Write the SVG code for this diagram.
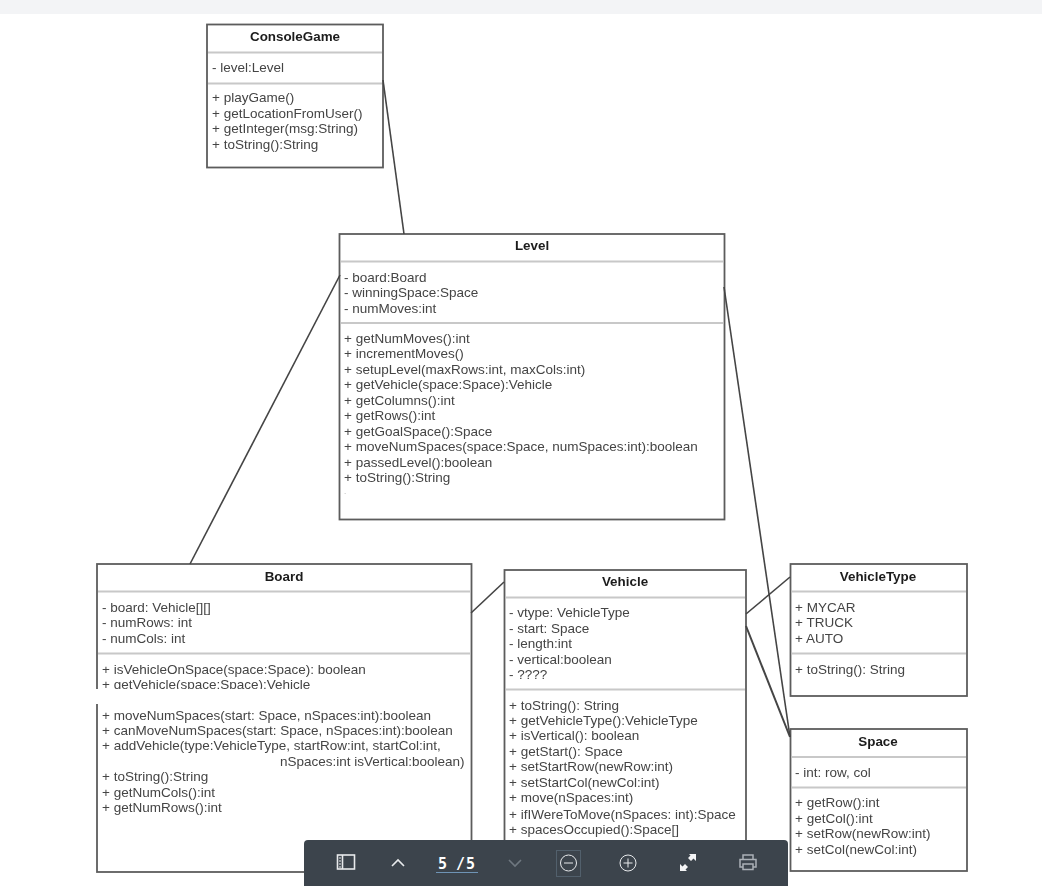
<svg xmlns="http://www.w3.org/2000/svg" width="1042" height="886" viewBox="0 0 1042 886">
<defs><filter id="soft" filterUnits="userSpaceOnUse" x="0" y="0" width="1042" height="886"><feGaussianBlur stdDeviation="0.4"/></filter></defs>
<style>
.box{fill:#fff;stroke:#5c5c5c;stroke-width:1.8}
.div{stroke:#c8c8c8;stroke-width:1.8;fill:none}
.con{stroke:#444;stroke-width:1.6;fill:none}
.nd,.cn{filter:url(#soft)}
text{font-family:"Liberation Sans",Arial,sans-serif}
.t{font-size:13.5px;fill:#444}
.h{font-size:13.4px;font-weight:bold;fill:#1c1c1c;text-anchor:middle}
.ic{fill:none;stroke:#e8eaec;stroke-width:1.6}
.dim{fill:none;stroke:#6f7880;stroke-width:1.6}
.pg{font-family:"DejaVu Sans Mono",monospace;font-size:15px;font-weight:bold;fill:#fff}
</style>
<rect width="1042" height="886" fill="#fff"/>
<rect width="1042" height="14" fill="#f3f4f6"/>
<g id="ConsoleGame" class="nd">
<rect class="box" x="207" y="24.500" width="176" height="143"/>
<path class="div" d="M208 52.500H382M208 83.500H382"/>
<text class="h" x="295" y="41">ConsoleGame</text>
<text class="t" x="212" y="72">- level:Level</text>
<text class="t" x="212" y="102">+ playGame()</text>
<text class="t" x="212" y="118">+ getLocationFromUser()</text>
<text class="t" x="212" y="133">+ getInteger(msg:String)</text>
<text class="t" x="212" y="149">+ toString():String</text>
</g>
<g id="Level" class="nd">
<rect class="box" x="339.500" y="234" width="385" height="285.500"/>
<path class="div" d="M341 261.500H723M341 323H723"/>
<text class="h" x="532" y="250">Level</text>
<text class="t" x="344" y="282">- board:Board</text>
<text class="t" x="344" y="297">- winningSpace:Space</text>
<text class="t" x="344" y="313">- numMoves:int</text>
<text class="t" x="344" y="343">+ getNumMoves():int</text>
<text class="t" x="344" y="358">+ incrementMoves()</text>
<text class="t" x="344" y="374">+ setupLevel(maxRows:int, maxCols:int)</text>
<text class="t" x="344" y="389">+ getVehicle(space:Space):Vehicle</text>
<text class="t" x="344" y="405">+ getColumns():int</text>
<text class="t" x="344" y="420">+ getRows():int</text>
<text class="t" x="344" y="436">+ getGoalSpace():Space</text>
<text class="t" x="344" y="451">+ moveNumSpaces(space:Space, numSpaces:int):boolean</text>
<text class="t" x="344" y="467">+ passedLevel():boolean</text>
<text class="t" x="344" y="482">+ toString():String</text>
<text class="t" x="344" y="494" style="font-size:8px" fill-opacity=".5">.</text>
</g>
<g id="Board" class="nd">
<rect class="box" x="97" y="564" width="374.500" height="308"/>
<path class="div" d="M98 591.500H470M98 653.500H470"/>
<text class="h" x="284" y="581">Board</text>
<text class="t" x="102" y="612">- board: Vehicle[][]</text>
<text class="t" x="102" y="627">- numRows: int</text>
<text class="t" x="102" y="643">- numCols: int</text>
<text class="t" x="102" y="674">+ isVehicleOnSpace(space:Space): boolean</text>
<text class="t" x="102" y="689">+ getVehicle(space:Space):Vehicle</text>
<rect x="94" y="689" width="250" height="15" fill="#fff"/>
<text class="t" x="102" y="720">+ moveNumSpaces(start: Space, nSpaces:int):boolean</text>
<text class="t" x="102" y="735">+ canMoveNumSpaces(start: Space, nSpaces:int):boolean</text>
<text class="t" x="102" y="750">+ addVehicle(type:VehicleType, startRow:int, startCol:int,</text>
<text class="t" x="280" y="766">nSpaces:int isVertical:boolean)</text>
<text class="t" x="102" y="781">+ toString():String</text>
<text class="t" x="102" y="797">+ getNumCols():int</text>
<text class="t" x="102" y="812">+ getNumRows():int</text>
</g>
<g id="Vehicle" class="nd">
<rect class="box" x="504.500" y="570" width="241.500" height="290"/>
<path class="div" d="M506 597.500H745M506 689.500H745"/>
<text class="h" x="625" y="586">Vehicle</text>
<text class="t" x="509" y="617">- vtype: VehicleType</text>
<text class="t" x="509" y="633">- start: Space</text>
<text class="t" x="509" y="648">- length:int</text>
<text class="t" x="509" y="664">- vertical:boolean</text>
<text class="t" x="509" y="679">- ????</text>
<text class="t" x="509" y="710">+ toString(): String</text>
<text class="t" x="509" y="725">+ getVehicleType():VehicleType</text>
<text class="t" x="509" y="740">+ isVertical(): boolean</text>
<text class="t" x="509" y="756">+ getStart(): Space</text>
<text class="t" x="509" y="771">+ setStartRow(newRow:int)</text>
<text class="t" x="509" y="787">+ setStartCol(newCol:int)</text>
<text class="t" x="509" y="802">+ move(nSpaces:int)</text>
<text class="t" x="509" y="819">+ ifIWereToMove(nSpaces: int):Space</text>
<text class="t" x="509" y="834">+ spacesOccupied():Space[]</text>
</g>
<g id="VehicleType" class="nd">
<rect class="box" x="790.500" y="564" width="176.500" height="132"/>
<path class="div" d="M792 591.500H966M792 653.500H966"/>
<text class="h" x="878" y="581">VehicleType</text>
<text class="t" x="795" y="612">+ MYCAR</text>
<text class="t" x="795" y="627">+ TRUCK</text>
<text class="t" x="795" y="643">+ AUTO</text>
<text class="t" x="795" y="674">+ toString(): String</text>
</g>
<g id="Space" class="nd">
<rect class="box" x="790.500" y="729" width="176.500" height="142"/>
<path class="div" d="M792 757H966M792 787.500H966"/>
<text class="h" x="878" y="746">Space</text>
<text class="t" x="795" y="777">- int: row, col</text>
<text class="t" x="795" y="807">+ getRow():int</text>
<text class="t" x="795" y="823">+ getCol():int</text>
<text class="t" x="795" y="838">+ setRow(newRow:int)</text>
<text class="t" x="795" y="854">+ setCol(newCol:int)</text>
</g>
<g id="connectors" class="cn">
<path class="con" d="M383 80L404 234"/>
<path class="con" d="M340 275L190 564"/>
<path class="con" d="M724 287L790 737"/>
<path class="con" d="M471 613L504 582"/>
<path class="con" d="M746 614L790 577"/>
<path class="con" style="stroke-width:2" d="M746 626L790 737"/>
</g>
<g id="toolbar">
<path d="M308 840H784a4 4 0 0 1 4 4V886H304V844a4 4 0 0 1 4-4z" fill="#3c444c"/>
<rect class="ic" x="337.500" y="855" width="17" height="14"/>
<path class="ic" d="M342.500 855V869"/>
<path d="M339 858h2M339 861h2M339 864h2M339 867h2" stroke="#e8eaec"/>
<path class="ic" d="M392 866L398 860L404 866"/>
<text class="pg" x="438" y="869">5</text>
<text class="pg" x="456" y="869">/</text>
<text class="pg" x="466" y="869">5</text>
<path d="M436 872.500H478" stroke="#6f94b5" stroke-width="1"/>
<path class="dim" d="M509 860L515 866L521 860"/>
<rect x="556.500" y="850.500" width="24" height="26" fill="none" stroke="#52606c"/>
<circle cx="568.500" cy="863" r="8" fill="none" stroke="#e8eaec"/>
<path d="M564 863H573" stroke="#e8eaec"/>
<circle cx="628" cy="863" r="8" fill="none" stroke="#e8eaec"/>
<path d="M623.500 863H632.500M628 858.500V867.500" stroke="#e8eaec"/>
<path d="M689 854H696V861L693.500 858.500L691 861L688 858L690.500 855.500zM687 871H680V864L682.500 866.500L685 864L688 867L685.500 869.500z" fill="#f4f5f6"/>
<path d="M743 859V855H753V859M743 867H740V859.500H756V867H753M743 864H753V869.500H743z" fill="none" stroke="#aab0b6" stroke-width="1.500"/>
</g>
</svg>
